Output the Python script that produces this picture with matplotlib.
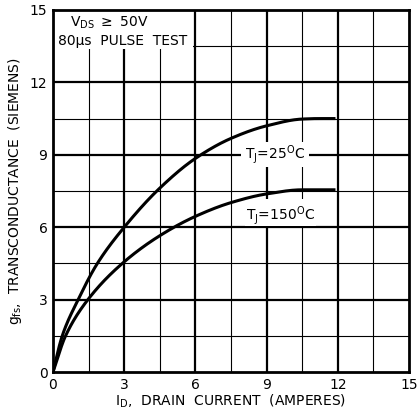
import matplotlib
matplotlib.use("Agg")
import matplotlib.pyplot as plt
from matplotlib.patches import Rectangle
import numpy as np

# Data
id_25 = [0, 0.39, 1.06, 1.87, 3.0, 4.5, 6.0, 7.5, 9.0, 10.5, 11.2, 11.9]
gfs_25 = [0, 1.5, 3.0, 4.5, 6.0, 7.62, 8.85, 9.68, 10.2, 10.48, 10.5, 10.5]
id_150 = [0, 0.53, 1.47, 2.92, 4.5, 6.0, 7.5, 9.0, 10.5, 11.9]
gfs_150 = [0, 1.5, 3.0, 4.5, 5.65, 6.45, 7.02, 7.38, 7.55, 7.55]
ticks = [0, 3, 6, 9, 12, 15]
minor = [1.5, 4.5, 7.5, 10.5, 13.5]


def smooth(x, y, n=400):
    """Monotone cubic (Fritsch-Carlson) rendering path through the read points."""
    x = np.asarray(x, float)
    y = np.asarray(y, float)
    h = np.diff(x)
    d = np.diff(y) / h
    m = np.zeros_like(y)
    m[0] = d[0]
    m[-1] = d[-1]
    for i in range(1, len(x) - 1):
        if d[i - 1] * d[i] <= 0:
            m[i] = 0
        else:
            w1 = 2 * h[i] + h[i - 1]
            w2 = h[i] + 2 * h[i - 1]
            m[i] = (w1 + w2) / (w1 / d[i - 1] + w2 / d[i])
    xs = np.linspace(x[0], x[-1], n)
    idx = np.clip(np.searchsorted(x, xs) - 1, 0, len(x) - 2)
    t = (xs - x[idx]) / h[idx]
    h00 = 2 * t**3 - 3 * t**2 + 1
    h10 = t**3 - 2 * t**2 + t
    h01 = -2 * t**3 + 3 * t**2
    h11 = t**3 - t**2
    ys = h00 * y[idx] + h10 * h[idx] * m[idx] + h01 * y[idx + 1] + h11 * h[idx] * m[idx + 1]
    return xs, ys


fig = plt.figure(figsize=(4.17, 4.13), dpi=100)
ax = fig.add_axes([0.127, 0.099, 0.854, 0.877])
ax.set_xlim(0, 15)
ax.set_ylim(0, 15)

for v in minor:
    ax.axvline(v, color="black", lw=0.8, zorder=1)
    ax.axhline(v, color="black", lw=0.8, zorder=1)
for v in ticks[1:-1]:
    ax.axvline(v, color="black", lw=1.6, zorder=1)
    ax.axhline(v, color="black", lw=1.6, zorder=1)

# white label boxes covering grid
ax.add_patch(Rectangle((0, 13.4), 5.9, 1.6, facecolor="white", edgecolor="none", zorder=2))
ax.add_patch(Rectangle((7.9, 8.5), 2.9, 1.05, facecolor="white", edgecolor="none", zorder=2))
ax.add_patch(Rectangle((8.1, 6.05), 3.0, 1.1, facecolor="white", edgecolor="none", zorder=2))

xs, ys = smooth(id_25, gfs_25)
ax.plot(xs, ys, color="black", lw=2.2, zorder=3, solid_capstyle="butt")
xs, ys = smooth(id_150, gfs_150)
ax.plot(xs, ys, color="black", lw=2.2, zorder=3, solid_capstyle="butt")

fs = 10
ax.text(0.7, 14.45, r"V$_{\mathregular{DS}}$ $\geq$ 50V", fontsize=fs, va="center", ha="left", zorder=4)
ax.text(0.2, 13.7, "80\u03bcs  PULSE  TEST", fontsize=fs, va="center", ha="left", zorder=4)
ax.text(9.35, 9.0, r"T$_{\mathregular{J}}$=25$^{\mathregular{O}}$C", fontsize=fs, va="center", ha="center", zorder=4)
ax.text(9.6, 6.5, r"T$_{\mathregular{J}}$=150$^{\mathregular{O}}$C", fontsize=fs, va="center", ha="center", zorder=4)

ax.set_xticks(ticks)
ax.set_yticks(ticks)
ax.set_xticklabels([str(t) for t in ticks], fontsize=fs)
ax.set_yticklabels([str(t) for t in ticks], fontsize=fs)
ax.tick_params(length=0, pad=4)
for s in ax.spines.values():
    s.set_linewidth(2.0)
    s.set_zorder(5)

ax.set_xlabel(r"I$_{\mathregular{D}}$,  DRAIN  CURRENT  (AMPERES)", fontsize=fs, labelpad=1)
ax.set_ylabel(r"g$_{\mathregular{fs}}$,  TRANSCONDUCTANCE  (SIEMENS)", fontsize=fs, labelpad=4)

fig.savefig("out.png", dpi=100)
